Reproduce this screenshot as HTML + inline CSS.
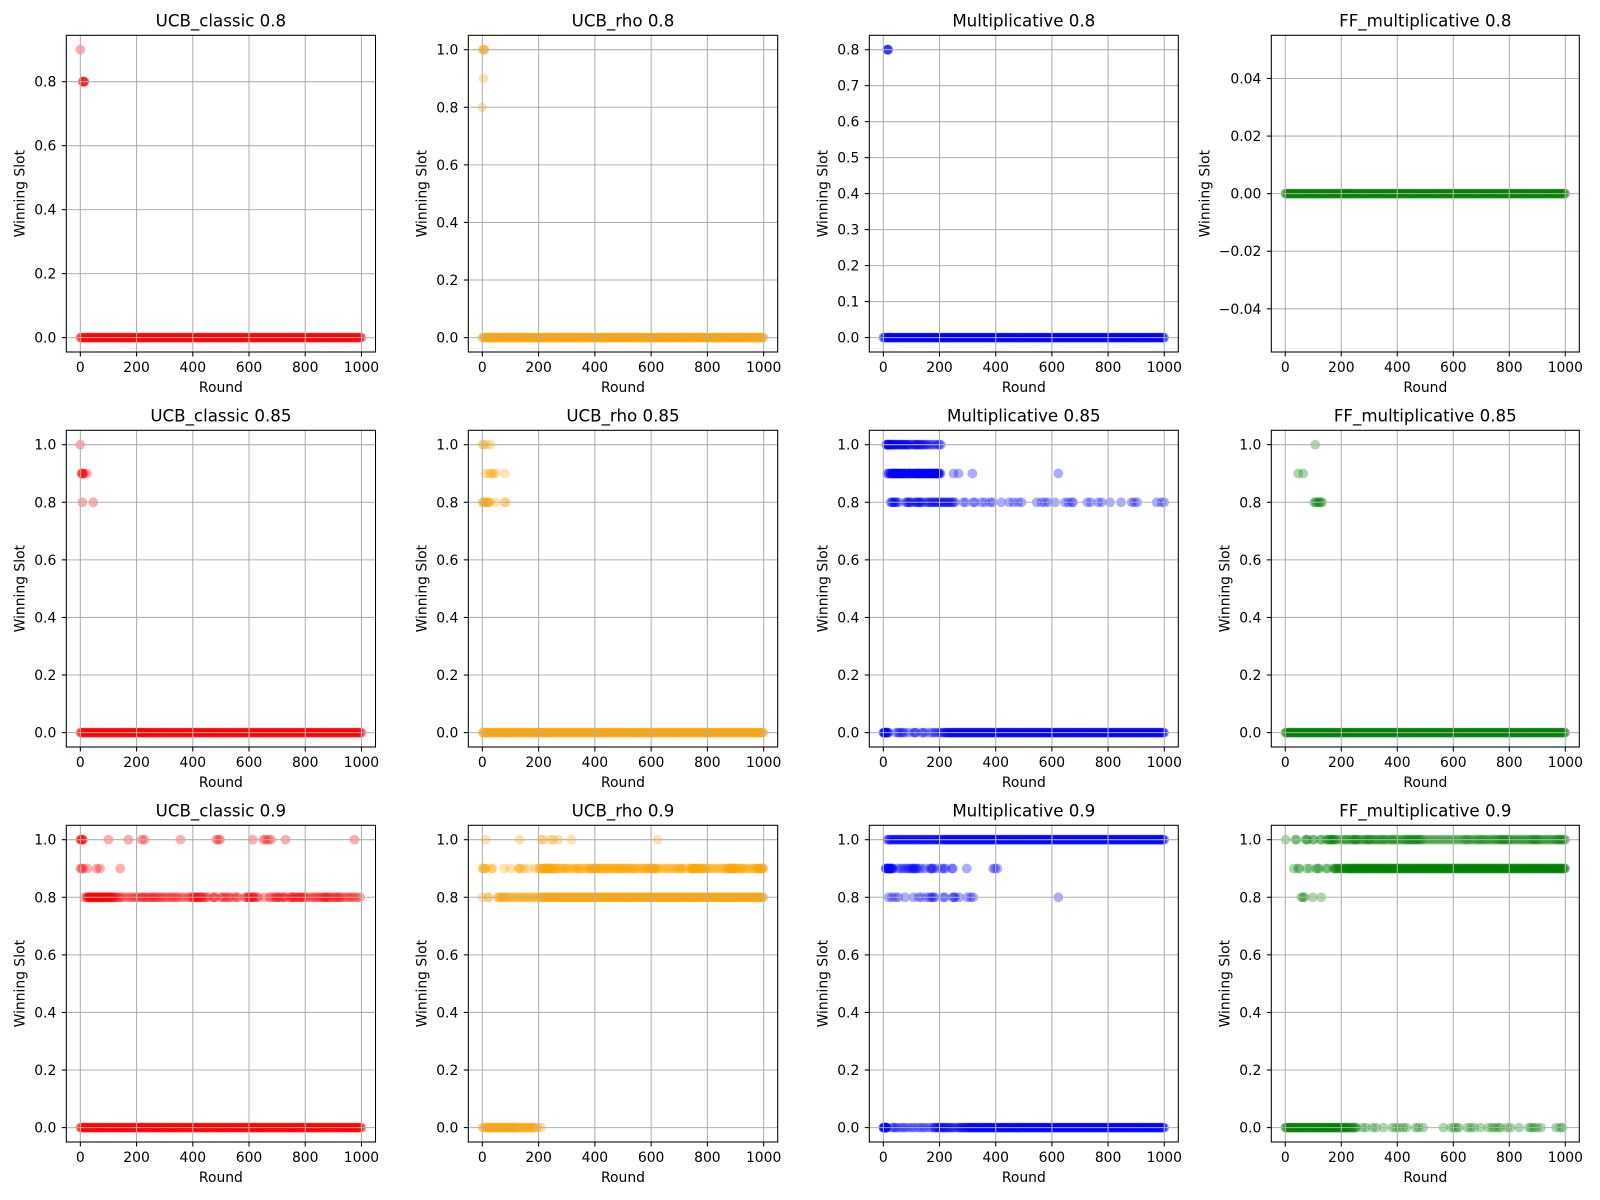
<!DOCTYPE html>
<html lang="en">
<head>
<meta charset="utf-8">
<title>Winning Slot per Round by Algorithm and Threshold</title>
<style>
html,body{margin:0;padding:0;background:#fff;}
svg{display:block;}
text{font-family:"DejaVu Sans","Liberation Sans",sans-serif;fill:#000;}
</style>
</head>
<body>
<svg id="chart" xmlns="http://www.w3.org/2000/svg" width="1600" height="1200" viewBox="0 0 1600 1200"></svg>
<script>
// ---------- Shared round lists for bands that look continuous ----------
const earlyRounds = [0,3,6,9,12,15,18,21,24,27,30,33,36,39,42,45,48,51,54,57,60,63,66,69,72,75,78,81,84,87,90,93,96,99,102,105,108,111,114,117,120,123,126,129,132,135,138,141,144,147,150,153,156,159,162,165,168,171,174,177,180,183,186,189,192,195,198,201,204,207,210,213,216,219];
const midRounds = [220,223,226,229,232,235,238,241,244,247,250,253,256,259,262,265,268,271,274,277,280,283,286,289,292,295,298];
const tailRounds = [301,304,307,310,313,316,319,322,325,328,331,334,337,340,343,346,349,352,355,358,361,364,367,370,373,376,379,382,385,388,391,394,397,400,403,406,409,412,415,418,421,424,427,430,433,436,439,442,445,448,451,454,457,460,463,466,469,472,475,478,481,484,487,490,493,496,499,502,505,508,511,514,517,520,523,526,529,532,535,538,541,544,547,550,553,556,559,562,565,568,571,574,577,580,583,586,589,592,595,598,601,604,607,610,613,616,619,622,625,628,631,634,637,640,643,646,649,652,655,658,661,664,667,670,673,676,679,682,685,688,691,694,697,700,703,706,709,712,715,718,721,724,727,730,733,736,739,742,745,748,751,754,757,760,763,766,769,772,775,778,781,784,787,790,793,796,799,802,805,808,811,814,817,820,823,826,829,832,835,838,841,844,847,850,853,856,859,862,865,868,871,874,877,880,883,886,889,892,895,898,901,904,907,910,913,916,919,922,925,928,931,934,937,940,943,946,949,952,955,958,961,964,967,970,973,976,979,982,985,988,991,994,997,1000];

// ---------- Threshold 0.8 ----------
const ucbClassic08Slot09 = [0];
const ucbClassic08Slot08 = [8,10,12,13,15];
const ucbClassic08Slot00 = [...earlyRounds, ...midRounds, ...tailRounds];
const ucbRho08Slot10 = [1,4,6,8];
const ucbRho08Slot09 = [4];
const ucbRho08Slot08 = [0];
const ucbRho08Slot00 = [...earlyRounds, ...midRounds, ...tailRounds];
const mult08Slot08 = [14,15,16,17];
const mult08Slot00 = [...earlyRounds, ...midRounds, ...tailRounds];
const ff08Slot00 = [...earlyRounds, ...midRounds, ...tailRounds];

// ---------- Threshold 0.85 ----------
const ucbClassic85Slot10 = [0];
const ucbClassic85Slot09 = [4,6,8,10,12,23];
const ucbClassic85Slot08 = [7,46];
const ucbClassic85Slot00 = [...earlyRounds, ...midRounds, ...tailRounds];
const ucbRho85Slot10 = [0,5,13,29];
const ucbRho85Slot09 = [11,25,33,39,47,80];
const ucbRho85Slot08 = [0,3,7,10,13,16,20,24,27,48,79,83];
const ucbRho85Slot00 = [...earlyRounds, ...midRounds, ...tailRounds];
const mult85Slot10 = [10,12,14,15,17,19,20,22,24,25,28,31,33,36,38,40,43,46,48,52,55,58,62,65,68,72,75,78,82,85,88,92,95,103,108,112,115,118,122,126,130,133,138,142,148,152,158,165,172,180,188,195,200,205];
const mult85Slot09 = [14,18,22,26,28,30,32,34,36,38,40,42,44,46,48,50,52,54,56,58,60,62,64,66,70,72,74,76,78,80,84,88,90,92,94,96,98,100,104,108,110,112,114,116,118,120,122,124,126,128,130,132,134,136,138,140,142,144,146,150,152,154,156,158,160,162,164,166,168,170,172,174,176,178,180,182,184,186,188,190,192,194,196,198,200,204,250,268,317,623];
const mult85Slot08 = [26,30,33,36,40,44,48,55,80,84,88,92,96,100,113,117,121,125,129,133,136,145,155,160,165,170,175,180,185,190,195,200,205,210,215,220,225,230,235,240,245,250,255,285,293,320,326,350,362,380,389,420,448,463,480,492,546,563,575,587,611,646,658,670,676,726,738,765,777,807,846,884,893,904,973,990,1000];
const mult85Slot00 = [0,2,3,4,5,6,7,8,10,12,14,16,18,45,52,58,64,70,76,90,108,112,116,136,142,148,165,175,183,190,198,205,210,215, ...midRounds, ...tailRounds];
const ff85Slot10 = [107];
const ff85Slot09 = [46,64];
const ff85Slot08 = [103,108,112,118,123,127,132];
const ff85Slot00 = [...earlyRounds, ...midRounds, ...tailRounds];

// ---------- Threshold 0.9 ----------
const ucbClassic9Slot10 = [0,2,4,6,8,10,100,171,218,228,356,483,491,497,613,651,660,669,679,730,975];
const ucbClassic9Slot09 = [0,5,10,25,58,70,142];
const ucbClassic9Slot08 = [14,23,26,28,30,32,34,36,38,40,42,44,46,48,50,52,54,56,58,60,62,64,67,70,72,74,76,78,80,83,86,88,90,93,96,98,100,103,106,108,110,113,116,120,123,128,135,142,146,158,170,178,188,196,204,212,220,225,230,238,246,252,258,264,270,278,285,292,300,310,318,326,335,342,350,362,372,384,392,398,402,406,410,414,418,422,426,430,434,440,448,452,472,476,480,500,506,512,520,528,534,548,556,562,585,592,596,600,604,608,612,616,620,628,634,656,672,680,690,696,700,706,712,720,726,730,745,750,754,758,762,770,776,780,785,790,795,800,810,820,830,836,845,853,860,866,870,874,880,885,890,900,906,912,918,924,930,940,950,958,966,975,985,995];
const ucbClassic9Slot00 = [...earlyRounds, ...midRounds, ...tailRounds];
const ucbRho9Slot10 = [12,132,209,217,244,253,270,317,623];
const ucbRho9Slot09 = [0,3,7,9,13,33,35,77,101,128,132,136,148,164,187,199,205,208,212,215,218,220,223,226,229,232,235,238,241,244,247,250,254,258,262,266,272,278,285,290,295,300,308,315,322,330,335,340,345,350,358,365,372,378,382,386,390,394,398,402,406,410,414,418,422,426,430,436,441,445,450,455,460,465,470,474,478,482,486,490,495,500,505,510,515,520,525,530,535,540,545,550,558,565,570,575,582,586,590,593,596,600,603,606,609,612,615,618,622,630,640,648,655,662,670,678,685,692,700,703,706,713,720,730,740,743,745,748,750,753,755,758,760,765,770,775,778,782,785,790,795,800,808,815,822,830,838,846,853,860,866,872,875,877,880,882,885,887,890,892,895,897,901,905,910,915,920,925,930,935,942,950,958,965,970,975,978,980,983,985,988,990,993,995,998,1000];
const ucbRho9Slot08 = [0,18,22,54,58,62,66,70,74,78,82,86,92,98,104,110,116,122,128,134,140,146,152,158,164,170,176,182,188,194,200,205,210,214,218, ...midRounds, ...tailRounds];
const ucbRho9Slot00 = [0,4,8,12,15,18,21,24,27,30,33,36,39,42,45,48,51,54,57,60,63,66,69,72,75,78,81,84,87,90,93,96,99,102,105,108,111,114,117,120,123,126,130,135,140,145,150,154,158,162,166,170,174,178,182,186,190,200,209];
const mult9Slot10 = [14,18,22,26,30,34,38,42,46,50,54,58,62,66,70,74,78,82,86,90,94,98,102,106,110,114,118,122,126,130,134,138,142,146,150,154,158,162,166,170,174,178,182,186,190,194,198,202,206,210,214,218, ...midRounds, ...tailRounds];
const mult9Slot09 = [8,10,12,14,16,18,20,22,24,26,28,30,32,35,50,60,68,76,84,90,96,102,106,110,114,118,125,135,148,166,170,174,178,192,208,214,222,244,248,297,391,398,406];
const mult9Slot08 = [18,30,42,53,77,107,125,136,154,166,172,178,184,213,219,247,251,256,270,299,311,320,623];
const mult9Slot00 = [0,1,2,3,4,5,6,7,8,9,10,11,12,30,36,42,50,60,70,78,88,100,108,120,130,140,148,160,170,180,184,188,192,196,200,204,208,212,216,220,225,230,235,240,245,250,258,265,270,274,278,282,286,290,294,298, ...tailRounds];
const ff9Slot10 = [1,36,40,72,76,80,98,102,125,130,145,152,156,160,164,168,172,176,180,190,200,211,217,223,232,240,244,248,252,256,263,270,278,285,292,296,300,304,311,318,324,330,338,345,350,355,363,372,378,385,390,395,403,410,418,425,430,435,440,445,450,455,460,465,470,475,480,485,490,500,510,520,530,540,550,560,570,580,590,600,610,620,630,638,645,650,658,665,674,682,690,695,702,708,715,722,730,738,745,752,760,765,770,775,780,785,790,795,800,808,815,822,830,838,845,852,860,868,875,880,885,890,895,900,905,912,920,928,935,942,950,958,965,970,975,980,985,990,995,1000];
const ff9Slot09 = [30,45,50,77,87,110,116,122,146,152,172,176,180,184,188,192,196,200,204,208,212,216, ...midRounds, ...tailRounds];
const ff9Slot08 = [57,63,69,98,128];
const ff9Slot00 = [...earlyRounds, 222,226,230,234,238,242,246,250,254,276,288,312,324,351,383,395,407,421,433,466,476,492,565,593,603,611,620,650,662,674,697,725,739,749,760,769,792,804,835,870,879,887,899,913,967,982,990];

// ---------- Tick values ----------
const roundTicks = [0,200,400,600,800,1000];
const slotTicksTo08 = [0,0.2,0.4,0.6,0.8];
const slotTicksTo10 = [0,0.2,0.4,0.6,0.8,1];
const slotTicksFine = [0,0.1,0.2,0.3,0.4,0.5,0.6,0.7,0.8];
const slotTicksFlat = [-0.04,-0.02,0,0.02,0.04];

// ---------- Panel content ----------
const algorithmNames = ['UCB_classic','UCB_rho','Multiplicative','FF_multiplicative'];
const thresholdNames = ['0.8','0.85','0.9'];
const panelSlots = [
  [0.9,0.8,0], [1,0.9,0.8,0], [0.8,0], [0],
  [1,0.9,0.8,0], [1,0.9,0.8,0], [1,0.9,0.8,0], [1,0.9,0.8,0],
  [1,0.9,0.8,0], [1,0.9,0.8,0], [1,0.9,0.8,0], [1,0.9,0.8,0]
];
const panelRounds = [
  [ucbClassic08Slot09,ucbClassic08Slot08,ucbClassic08Slot00],
  [ucbRho08Slot10,ucbRho08Slot09,ucbRho08Slot08,ucbRho08Slot00],
  [mult08Slot08,mult08Slot00],
  [ff08Slot00],
  [ucbClassic85Slot10,ucbClassic85Slot09,ucbClassic85Slot08,ucbClassic85Slot00],
  [ucbRho85Slot10,ucbRho85Slot09,ucbRho85Slot08,ucbRho85Slot00],
  [mult85Slot10,mult85Slot09,mult85Slot08,mult85Slot00],
  [ff85Slot10,ff85Slot09,ff85Slot08,ff85Slot00],
  [ucbClassic9Slot10,ucbClassic9Slot09,ucbClassic9Slot08,ucbClassic9Slot00],
  [ucbRho9Slot10,ucbRho9Slot09,ucbRho9Slot08,ucbRho9Slot00],
  [mult9Slot10,mult9Slot09,mult9Slot08,mult9Slot00],
  [ff9Slot10,ff9Slot09,ff9Slot08,ff9Slot00]
];
const panelYTicks = [
  slotTicksTo08,slotTicksTo10,slotTicksFine,slotTicksFlat,
  slotTicksTo10,slotTicksTo10,slotTicksTo10,slotTicksTo10,
  slotTicksTo10,slotTicksTo10,slotTicksTo10,slotTicksTo10
];

// ---------- Layout and style ----------
const columnLeft = [66.3,468.3,869.3,1271.3];
const columnRight = [375.5,777.7,1178.3,1579.3];
const rowTop = [35.3,430.3,825.3];
const rowBottom = [352,747,1142];
const seriesColors = ['#ff0000','#ffa500','#0000ff','#008000'];
const xDomain = [-49.95,1049.95];

const NS = 'http://www.w3.org/2000/svg';
const root = document.getElementById('chart');

function make(parent, tag, attrs, text){
  const el = document.createElementNS(NS, tag);
  for (const k in attrs) el.setAttribute(k, attrs[k]);
  if (text !== undefined) el.textContent = text;
  parent.appendChild(el);
  return el;
}
function slug(s){ return s.toLowerCase().replace(/[^a-z0-9]+/g,'-'); }
function tickText(v, decimals){
  const s = Math.abs(v).toFixed(decimals);
  return (v < 0 ? '\u2212' : '') + s;
}

const bg = make(root,'rect',{x:0,y:0,width:1600,height:1200,fill:'#ffffff'});



for (let r = 0; r < 3; r++) {
  for (let c = 0; c < 4; c++) {
    const idx = r * 4 + c;
    const L = columnLeft[c], R = columnRight[c], T = rowTop[r], B = rowBottom[r];
    const slots = panelSlots[idx], roundsList = panelRounds[idx], yTicks = panelYTicks[idx];
    const minS = Math.min(...slots), maxS = Math.max(...slots);
    const pad = maxS === minS ? 0.055 : (maxS - minS) * 0.05;
    const yLo = minS - pad, yHi = maxS + pad;
    const xScale = v => L + (v - xDomain[0]) / (xDomain[1] - xDomain[0]) * (R - L);
    const yScale = v => B - (v - yLo) / (yHi - yLo) * (B - T);
    const title = algorithmNames[c] + ' ' + thresholdNames[r];
    const base = slug(title);

    const panel = make(root,'g',{});
    
    

    // Points (below grid, as in the source figure)
    const pts = make(panel,'g',{fill:seriesColors[c],'fill-opacity':0.32});
    
    
    slots.forEach((slot, si) => {
      roundsList[si].forEach(round => {
        const dot = make(pts,'circle',{cx:xScale(round).toFixed(2),cy:yScale(slot).toFixed(2),r:4.9});
        
        
      });
    });

    // Vertical grid + x ticks + labels
    roundTicks.forEach(t => {
      const x = xScale(t);
      const grid = make(panel,'line',{x1:x,x2:x,y1:T,y2:B,stroke:'#b0b0b0','stroke-width':1.05});
      
      
      const tick = make(panel,'line',{x1:x,x2:x,y1:B,y2:B+4.5,stroke:'#000','stroke-width':1.05});
      
      
      const lab = make(panel,'text',{x:x,y:B+20,'text-anchor':'middle','font-size':13.9},String(t));
      
      
    });

    // Horizontal grid + y ticks + labels
    const decimals = yTicks === slotTicksFlat ? 2 : 1;
    yTicks.forEach(t => {
      const y = yScale(t);
      const grid = make(panel,'line',{x1:L,x2:R,y1:y,y2:y,stroke:'#b0b0b0','stroke-width':1.05});
      
      
      const tick = make(panel,'line',{x1:L-4.5,x2:L,y1:y,y2:y,stroke:'#000','stroke-width':1.05});
      
      
      const lab = make(panel,'text',{x:L-10,y:y+5,'text-anchor':'end','font-size':13.9},tickText(t,decimals));
      
      
    });

    // Frame
    const frame = make(panel,'rect',{x:L,y:T,width:R-L,height:B-T,fill:'none',stroke:'#000','stroke-width':1.05});
    
    

    // Title and axis titles
    const ttl = make(panel,'text',{x:(L+R)/2,y:T-8.6,'text-anchor':'middle','font-size':16.67},title);
    
    
    const xt = make(panel,'text',{x:(L+R)/2,y:B+40,'text-anchor':'middle','font-size':13.9},'Round');
    
    
    const yOffset = yTicks === slotTicksFlat ? 62 : 42;
    const yx = L - yOffset, yy = (T + B) / 2;
    const yt = make(panel,'text',{x:yx,y:yy,'text-anchor':'middle','font-size':13.9,transform:'rotate(-90 '+yx+' '+yy+')'},'Winning Slot');
    
    
  }
}
</script>
</body>
</html>
